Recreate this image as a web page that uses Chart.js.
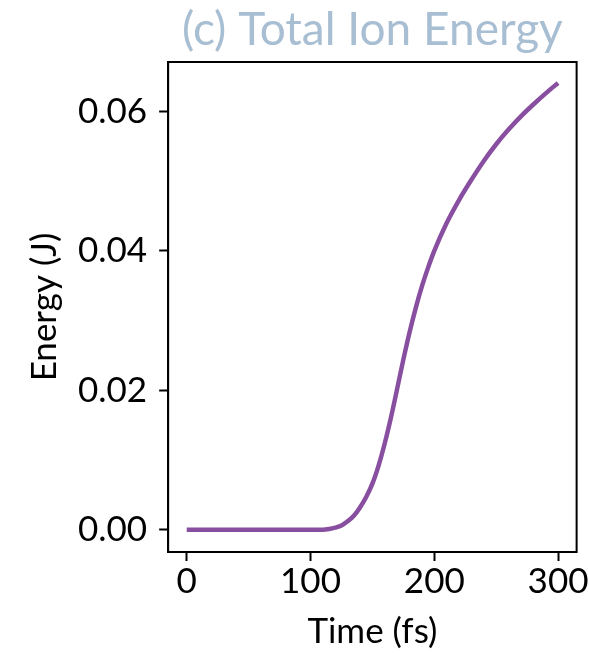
<!DOCTYPE html>
<html>
<head>
<meta charset="utf-8">
<script src="https://cdn.jsdelivr.net/npm/chart.js@4"></script>
<style>
  body { margin: 0; background: #fff; }
  #wrap { width: 589px; height: 654px; }
</style>
</head>
<body>
<div id="wrap"><canvas id="myChart"></canvas></div>
<script>
'use strict';

// time in fs, energy in J
let timeFs = [0, 20, 40, 60, 80, 100, 110, 115, 120, 125, 130, 135, 140, 145, 150, 155, 160, 165, 170, 175, 180, 185, 190, 195, 200, 210, 220, 230, 240, 250, 260, 270, 280, 290, 300];
let energyJ = [0, 0, 0, 0, 0, 0, 0, 0.0001, 0.0003, 0.0006, 0.0012, 0.0020, 0.0032, 0.0047, 0.0066, 0.0092, 0.0124, 0.0161, 0.0202, 0.0244, 0.0283, 0.0318, 0.0349, 0.0376, 0.0400, 0.0440, 0.0473, 0.0502, 0.0529, 0.0553, 0.0574, 0.0593, 0.0610, 0.0626, 0.0641];
let xTicks = [0, 100, 200, 300];
let yTicks = [0, 0.02, 0.04, 0.06];
let chartTitle = '(c) Total Ion Energy';

let points = [];
for (let i = 0; i < timeFs.length; i++) {
    points.push({ x: timeFs[i], y: energyJ[i] });
}

let fontName = 'Lato, "DejaVu Sans", sans-serif';

// matplotlib style box round the plot, title centred over the plot area
let frameBox = {
    id: 'frameBox',
    afterDraw(chart) {
        let a = chart.chartArea;
        let ctx = chart.ctx;
        ctx.save();
        ctx.strokeStyle = '#000';
        ctx.lineWidth = 2;
        ctx.strokeRect(a.left, a.top, a.right - a.left, a.bottom - a.top);
        ctx.fillStyle = '#a8bed2';
        ctx.font = '46px ' + fontName;
        ctx.textAlign = 'center';
        ctx.textBaseline = 'alphabetic';
        ctx.fillText(chartTitle, (a.left + a.right) / 2, 45);
        ctx.restore();
    }
};

let ctx = document.getElementById('myChart');
let myChart = new Chart(ctx, {
    type: 'line',
    data: {
        datasets: [{
            label: 'Total Ion Energy',
            data: points,
            borderColor: '#884ea0',
            borderWidth: 4.5,
            pointRadius: 0,
            cubicInterpolationMode: 'monotone',
            fill: false
        }]
    },
    options: {
        responsive: true,
        maintainAspectRatio: false,
        animation: false,
        layout: { padding: { top: 62, right: 11, left: 20, bottom: 1 } },
        plugins: {
            legend: { display: false },
            tooltip: { enabled: false },
            title: { display: false }
        },
        scales: {
            x: {
                type: 'linear',
                min: -15,
                max: 315,
                afterBuildTicks: (axis) => { axis.ticks = xTicks.map(v => ({ value: v })); },
                ticks: {
                    color: '#000',
                    font: { family: fontName, size: 35 },
                    padding: 0,
                    maxRotation: 0
                },
                grid: { drawOnChartArea: false, tickLength: 9, tickWidth: 2, tickColor: '#000' },
                border: { color: '#000', width: 2 },
                title: {
                    display: true,
                    text: 'Time (fs)',
                    color: '#000',
                    font: { family: fontName, size: 35 },
                    padding: { top: 8, bottom: 0 }
                }
            },
            y: {
                min: -0.0032,
                max: 0.0671,
                afterBuildTicks: (axis) => { axis.ticks = yTicks.map(v => ({ value: v })); },
                ticks: {
                    color: '#000',
                    font: { family: fontName, size: 35 },
                    padding: 12,
                    callback: (v) => v.toFixed(2)
                },
                grid: { drawOnChartArea: false, tickLength: 9, tickWidth: 2, tickColor: '#000' },
                border: { color: '#000', width: 2 },
                title: {
                    display: true,
                    text: 'Energy (J)',
                    color: '#000',
                    font: { family: fontName, size: 35 },
                    padding: { top: 4, bottom: 0 }
                }
            }
        }
    },
    plugins: [frameBox]
});
</script>
</body>
</html>
